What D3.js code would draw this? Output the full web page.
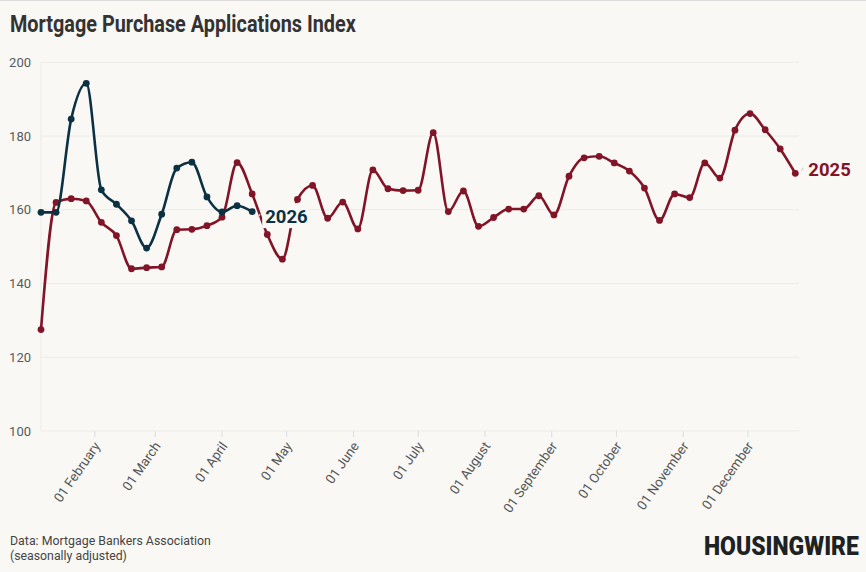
<!DOCTYPE html>
<html>
<head>
<meta charset="utf-8">
<script src="https://cdn.jsdelivr.net/npm/d3@7"></script>
<style>
  html, body { margin: 0; padding: 0; background: #f9f8f5; }
  svg { display: block; font-family: Roboto, "Noto Sans", sans-serif; }
</style>
</head>
<body>
<div id="chart"></div>
<script>
// weekly index, 2025 (51 weeks starting Jan 7)
const values2025 = [127.5, 162, 163, 162.4, 156.6, 153, 144, 144.3, 144.5, 154.6,
  154.7, 155.7, 158, 172.8, 164.3, 153.3, 146.6, 162.8, 166.6, 157.7,
  162.1, 154.8, 170.8, 165.7, 165.2, 165.3, 180.9, 159.5, 165.1, 155.5,
  157.9, 160.2, 160.2, 163.8, 158.6, 169.1, 174.1, 174.5, 172.7, 170.5,
  165.9, 157.1, 164.3, 163.3, 172.7, 168.6, 181.6, 186.1, 181.7, 176.5, 169.9];
// 2026 so far, same weeks of the year
const values2026 = [159.3, 159.3, 184.6, 194.3, 165.4, 161.5, 157, 149.6, 158.8, 171.3,
  172.9, 163.5, 159.4, 161.1, 159.5];
const yTicks = [100, 120, 140, 160, 180, 200];
const monthTicks = ['2025-02-01', '2025-03-01', '2025-04-01', '2025-05-01', '2025-06-01',
  '2025-07-01', '2025-08-01', '2025-09-01', '2025-10-01', '2025-11-01', '2025-12-01'];

const width = 866;
const height = 572;
const bg = '#f9f8f5';

const start = new Date(Date.UTC(2025, 0, 7));
const weeks = values2025.map((d, i) => d3.utcDay.offset(start, 7 * i));

const series = [
  { name: '2025', values: values2025, color: '#821427', labelDy: -3.5 },
  { name: '2026', values: values2026, color: '#0b3142', labelDy: 4.5 }
];

const svg = d3.select('#chart')
  .append('svg')
  .attr('width', width)
  .attr('height', height);

svg.append('rect').attr('width', width).attr('height', height).attr('fill', bg);
svg.append('line').attr('x1', 0).attr('x2', width).attr('y1', 0.5).attr('y2', 0.5)
  .attr('stroke', '#dcdcdc');

const x = d3.scaleUtc()
  .domain([weeks[0], weeks[weeks.length - 1]])
  .range([41, 795.3]);

const y = d3.scaleLinear()
  .domain([100, 200])
  .range([431, 62.3]);

// grid
svg.append('g')
  .selectAll('line')
  .data(yTicks)
  .join('line')
    .attr('x1', 41)
    .attr('x2', 799)
    .attr('y1', d => y(d))
    .attr('y2', d => y(d))
    .attr('stroke', '#ebebeb');

svg.append('line')
  .attr('x1', 41).attr('x2', 41)
  .attr('y1', y(200)).attr('y2', y(100))
  .attr('stroke', '#ebebeb');

// y labels
svg.append('g')
  .attr('font-size', '13px')
  .attr('fill', '#5a5a5a')
  .attr('text-anchor', 'end')
  .selectAll('text')
  .data(yTicks)
  .join('text')
    .attr('x', 31)
    .attr('y', d => y(d))
    .attr('dy', '0.35em')
    .text(d => d);

// x axis ticks + labels
const months = monthTicks.map(d => new Date(d + 'T00:00:00Z'));
const fmt = d3.utcFormat('%d %B');

svg.append('g')
  .selectAll('line')
  .data(months)
  .join('line')
    .attr('x1', d => x(d)).attr('x2', d => x(d))
    .attr('y1', 431).attr('y2', 437)
    .attr('stroke', '#dddddd');

svg.append('g')
  .attr('font-size', '13.3px')
  .attr('fill', '#555')
  .attr('text-anchor', 'end')
  .selectAll('text')
  .data(months)
  .join('text')
    .attr('transform', d => `translate(${x(d) + 6},${446}) rotate(-55)`)
    .text(d => fmt(d));

// lines
const line = d3.line()
  .x((d, i) => x(weeks[i]))
  .y(d => y(d))
  .curve(d3.curveMonotoneX);

series.forEach(s => {
  const g = svg.append('g');
  g.append('path')
    .attr('d', line(s.values))
    .attr('fill', 'none')
    .attr('stroke', s.color)
    .attr('stroke-width', 2.6)
    .attr('stroke-linejoin', 'round');
  g.selectAll('circle')
    .data(s.values)
    .join('circle')
      .attr('cx', (d, i) => x(weeks[i]))
      .attr('cy', d => y(d))
      .attr('r', 3.4)
      .attr('fill', s.color);
});

// end labels
series.forEach(s => {
  const n = s.values.length - 1;
  const lx = x(weeks[n]);
  const ly = y(s.values[n]) + s.labelDy;
  svg.append('rect')
    .attr('x', lx + 10)
    .attr('y', ly - 13)
    .attr('width', 46)
    .attr('height', 25)
    .attr('fill', bg);
  svg.append('line')
    .attr('x1', lx + 6).attr('x2', lx + 8)
    .attr('y1', ly + 1).attr('y2', ly - 2)
    .attr('stroke', '#cfcfcf')
    .attr('stroke-width', 1.2);
  svg.append('text')
    .attr('x', lx + 13)
    .attr('y', ly)
    .attr('dy', '0.36em')
    .attr('font-size', '18.5px')
    .attr('font-weight', 700)
    .attr('fill', s.color)
    .text(s.name);
});

// condensed-looking text: squeeze horizontally to a target width
function squeezed(txt, px, py, size, weight, color, targetW) {
  const t = svg.append('text')
    .attr('font-size', size + 'px')
    .attr('font-weight', weight)
    .attr('fill', color)
    .text(txt);
  const w = t.node().getComputedTextLength();
  t.attr('transform', `translate(${px},${py}) scale(${targetW / w},1)`);
  return t;
}

squeezed('Mortgage Purchase Applications Index', 10, 32, 23.5, 700, '#333', 346);
squeezed('Data: Mortgage Bankers Association', 10, 545, 13.5, 400, '#444', 201);
squeezed('(seasonally adjusted)', 10, 560, 13.5, 400, '#444', 117);
squeezed('HOUSINGWIRE', 704, 555, 26.5, 900, '#1e2223', 155);
</script>
</body>
</html>
